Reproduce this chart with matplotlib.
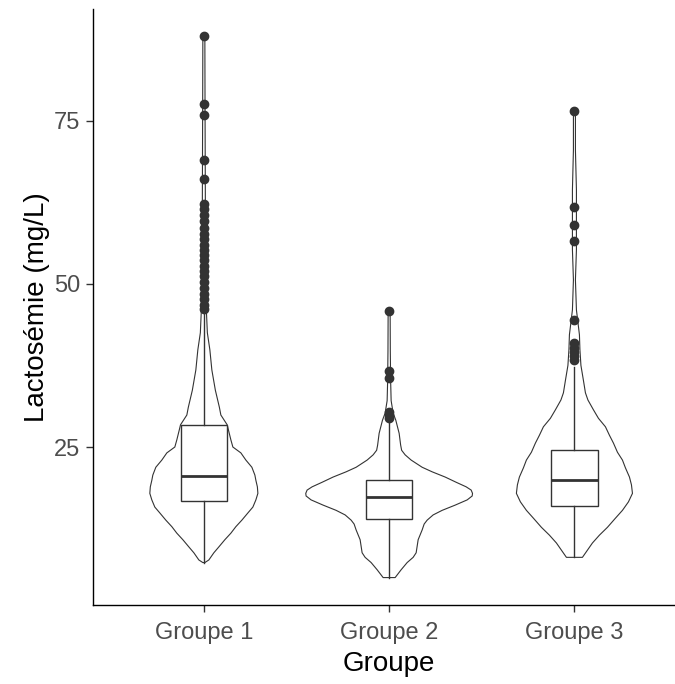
import numpy as np
import matplotlib
matplotlib.use("Agg")
import matplotlib.pyplot as plt

plt.rcParams["font.family"] = ["Liberation Sans", "DejaVu Sans"]

groups = ["Groupe 1", "Groupe 2", "Groupe 3"]

# violin outlines: lactose level and relative density (1 = widest group)
g1_levels = [7.3, 7.7, 8.8, 9.7, 10.8, 11.8, 12.8, 13.8, 14.9, 15.8, 16.9, 17.9, 18.9,
             19.9, 20.7, 21.9, 23.0, 24.1, 25.0, 26.1, 27.6, 28.4, 29.9, 31.1, 33.7,
             36.8, 39.9, 42.5, 46.0, 53.5, 62.7, 78.1, 87.9]
g1_dens = [0.012, 0.06, 0.12, 0.18, 0.252, 0.324, 0.384, 0.456, 0.528, 0.588, 0.624, 0.648, 0.642,
           0.624, 0.612, 0.576, 0.504, 0.444, 0.348, 0.324, 0.295, 0.28, 0.204, 0.186, 0.138,
           0.096, 0.072, 0.042, 0.030, 0.024, 0.018, 0.014, 0.012]

g2_levels = [5.0, 6.2, 7.3, 8.1, 8.8, 10.8, 12.3, 13.2, 13.8, 14.6, 15.3, 16.1, 16.9,
             17.5, 17.9, 18.4, 18.9, 19.6, 20.4, 21.2, 21.9, 23.0, 23.8, 24.5, 25.3,
             27.1, 29.1, 30.2, 32.1, 35.1, 39.7, 45.8]
g2_dens = [0.072, 0.144, 0.216, 0.288, 0.324, 0.348, 0.396, 0.42, 0.456, 0.528, 0.636, 0.792, 0.936,
           0.996, 1.0, 0.984, 0.924, 0.804, 0.672, 0.516, 0.396, 0.264, 0.192, 0.15, 0.138,
           0.12, 0.08, 0.048, 0.024, 0.018, 0.014, 0.012]

g3_levels = [8.1, 9.2, 10.3, 11.5, 12.7, 14.1, 15.3, 16.6, 17.9, 19.2, 20.4, 21.8, 23.0,
             24.2, 25.6, 26.8, 28.1, 29.4, 30.7, 32.2, 33.3, 35.2, 37.5, 39.9, 42.2,
             46.0, 50.6, 55.2, 64.4, 70.5, 76.4]
g3_dens = [0.096, 0.156, 0.216, 0.30, 0.396, 0.492, 0.576, 0.648, 0.696, 0.684, 0.66, 0.612, 0.576,
           0.516, 0.468, 0.42, 0.372, 0.288, 0.228, 0.162, 0.132, 0.108, 0.078, 0.066, 0.06,
           0.024, 0.012, 0.024, 0.024, 0.012, 0.012]

# box statistics
q1 = [16.7, 13.9, 16.0]
med = [20.6, 17.4, 19.9]
q3 = [28.4, 20.0, 24.6]
whis_lo = [7.3, 5.0, 8.1]
whis_hi = [45.5, 29.0, 37.3]

outliers = [
    [87.9, 77.6, 75.8, 68.9, 66.1, 62.3, 61.4, 60.6, 59.6, 58.6, 57.7, 56.9, 56.0,
     55.2, 54.4, 53.6, 52.8, 52.0, 51.2, 50.3, 49.4, 48.5, 47.6, 46.8, 46.1],
    [45.8, 36.7, 35.5, 30.3, 29.9, 29.5],
    [76.4, 61.8, 59.0, 56.5, 44.5, 40.9, 40.2, 39.6, 39.0, 38.4],
]

violins = [(g1_levels, g1_dens), (g2_levels, g2_dens), (g3_levels, g3_dens)]

fig = plt.figure(figsize=(6.75, 6.84), dpi=100)
ax = fig.add_axes([0.1373, 0.1155, 0.8784, 0.8709])

edge = "#333333"
for i, (lev, dens) in enumerate(violins):
    x0 = i + 1
    lev = np.asarray(lev)
    half = np.asarray(dens) * 0.45
    xs = np.concatenate([x0 + half, (x0 - half)[::-1]])
    ys = np.concatenate([lev, lev[::-1]])
    ax.fill(xs, ys, facecolor="white", edgecolor=edge, linewidth=0.8, zorder=1)

stats = []
for i, name in enumerate(groups):
    stats.append(dict(label=name, q1=q1[i], med=med[i], q3=q3[i],
                      whislo=whis_lo[i], whishi=whis_hi[i], fliers=outliers[i]))

ax.bxp(stats, positions=[1, 2, 3], widths=0.25, showcaps=False, patch_artist=True,
       boxprops=dict(facecolor="white", edgecolor=edge, linewidth=1.0),
       medianprops=dict(color=edge, linewidth=2.0),
       whiskerprops=dict(color=edge, linewidth=1.0),
       flierprops=dict(marker="o", markerfacecolor=edge, markeredgecolor=edge,
                       markersize=6.0, linestyle="none"),
       zorder=2)

ax.set_xlim(0.4, 3.6)
ax.set_ylim(0.8, 92.05)
ax.set_yticks([25, 50, 75])
ax.set_xticks([1, 2, 3])
ax.set_xticklabels(groups)

for side in ["top", "right"]:
    ax.spines[side].set_visible(False)
for side in ["left", "bottom"]:
    ax.spines[side].set_color("black")
    ax.spines[side].set_linewidth(1.0)

ax.tick_params(axis="both", colors=edge, length=5, width=1.0,
               labelsize=17, labelcolor="#4D4D4D")
ax.tick_params(axis="x", pad=7)
ax.tick_params(axis="y", pad=4)

ax.set_xlabel("Groupe", fontsize=20, color="black", labelpad=5)
ax.set_ylabel("Lactosémie (mg/L)", fontsize=20, color="black", labelpad=3)

fig.savefig("out.png", dpi=100)
